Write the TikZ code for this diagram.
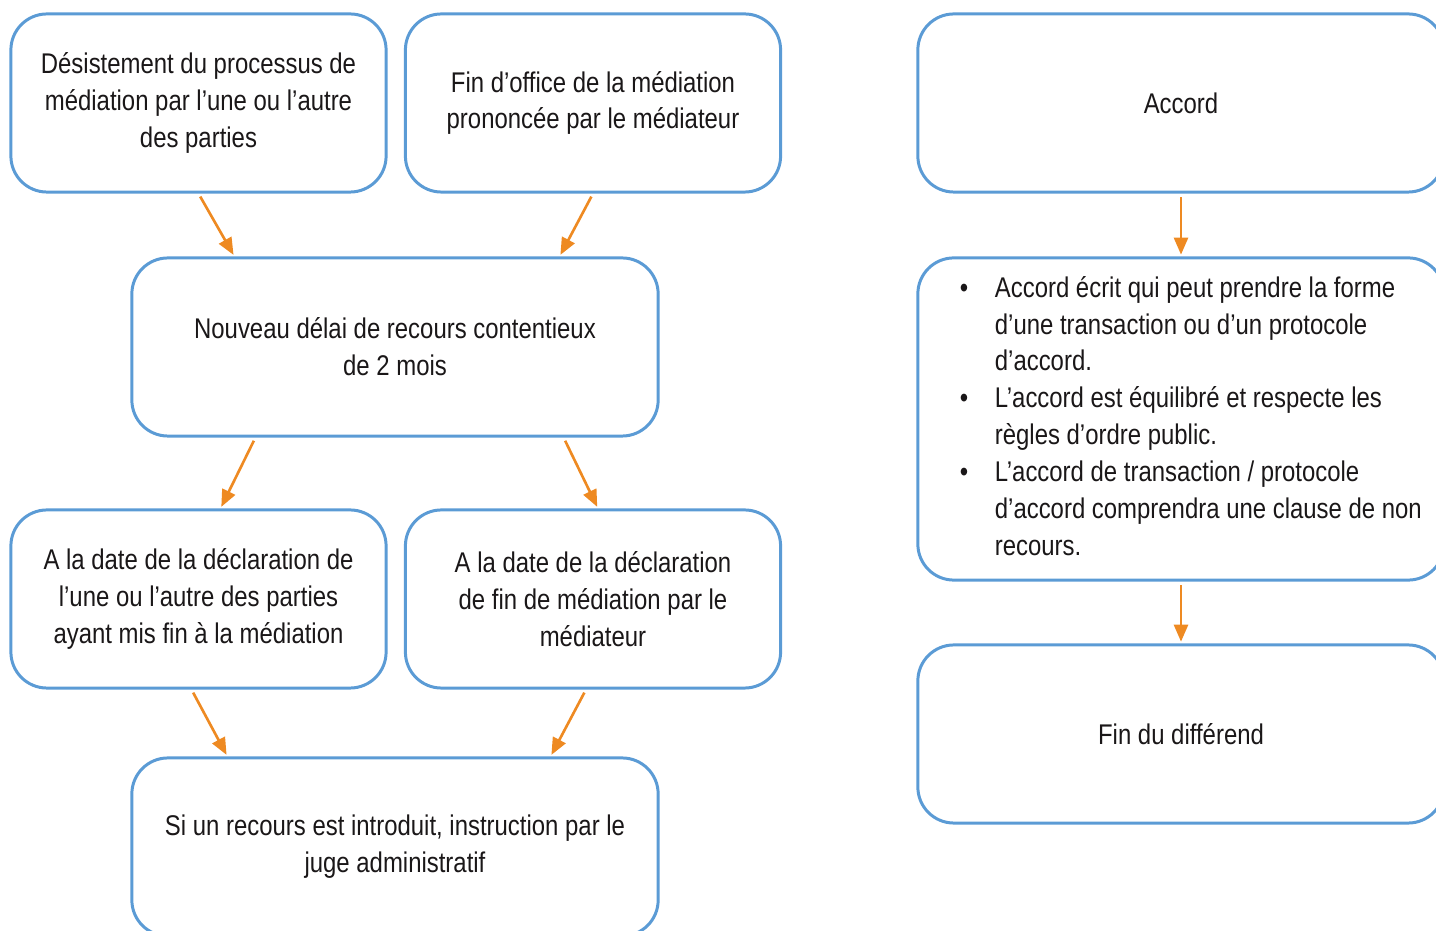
\documentclass[tikz,border=0pt]{standalone}
\usepackage{fontspec}
\setmainfont{Liberation Sans}[FakeStretch=0.84]
\usetikzlibrary{arrows.meta}

\definecolor{boxblue}{HTML}{5B9BD5}
\definecolor{arroworange}{HTML}{EE8A22}
\definecolor{textgray}{HTML}{1A1718}

\begin{document}
\begin{tikzpicture}[x=0.01cm,y=-0.01cm,
    -{Triangle[length=0.17cm,width=0.14cm]},shorten >=0.5pt,shorten <=1pt,
    arroworange,line width=0.75pt]
  \tikzstyle{step box}=[draw=boxblue,line width=0.85pt,rounded corners=0.36cm,
    minimum width=3.75cm,minimum height=1.78cm,align=center,text=textgray,
    font=\fontsize{8.1pt}{10.5pt}\selectfont]
  \tikzstyle{wide box}=[step box,minimum width=5.26cm]

  \useasboundingbox (0,0) rectangle (1436,931);
  \clip (0,0) rectangle (1436,931);

  % left branch
  \node[step box] (A) at (198.5,103) {Désistement du processus de\\médiation par l’une ou l’autre\\des parties};
  \node[step box] (B) at (593,103)   {Fin d’office de la médiation\\prononcée par le médiateur};
  \node[wide box] (C) at (395,347)   {Nouveau délai de recours contentieux\\de 2 mois};
  \node[step box] (D) at (198.5,599) {A la date de la déclaration de\\l’une ou l’autre des parties\\ayant mis fin à la médiation};
  \node[step box] (E) at (593,599)   {A la date de la déclaration\\de fin de médiation par le\\médiateur};
  \node[wide box] (F) at (395,847)   {Si un recours est introduit, instruction par le\\juge administratif};

  % right branch
  \node[wide box] (Accord) at (1181,103) {Accord};
  \node[wide box,minimum height=3.22cm,inner xsep=0pt] (Terms) at (1181,419)
    {\begin{tabular}{@{\hspace{0.42cm}}p{0.08cm}@{\hspace{0.27cm}}p{4.49cm}@{}}
      \textbullet & Accord écrit qui peut prendre la forme\\
                  & d’une transaction ou d’un protocole\\
                  & d’accord.\\
      \textbullet & L’accord est équilibré et respecte les\\
                  & règles d’ordre public.\\
      \textbullet & L’accord de transaction / protocole\\
                  & d’accord comprendra une clause de non\\
                  & recours.
    \end{tabular}};
  \node[wide box] (End) at (1181,734) {Fin du différend};

  \draw (A.south) -- ([xshift=1.04cm]C.north west);
  \draw (B.south) -- ([xshift=-1.0cm]C.north east);
  \draw ([xshift=1.25cm]C.south west) -- ([xshift=0.22cm]D.north);
  \draw ([xshift=-0.96cm]C.south east) -- ([xshift=0.05cm]E.north);
  \draw ([xshift=-0.07cm]D.south) -- ([xshift=0.97cm]F.north west);
  \draw ([xshift=-0.07cm]E.south) -- ([xshift=-1.09cm]F.north east);
  \draw (Accord) -- (Terms);
  \draw (Terms) -- (End);
\end{tikzpicture}
\end{document}
